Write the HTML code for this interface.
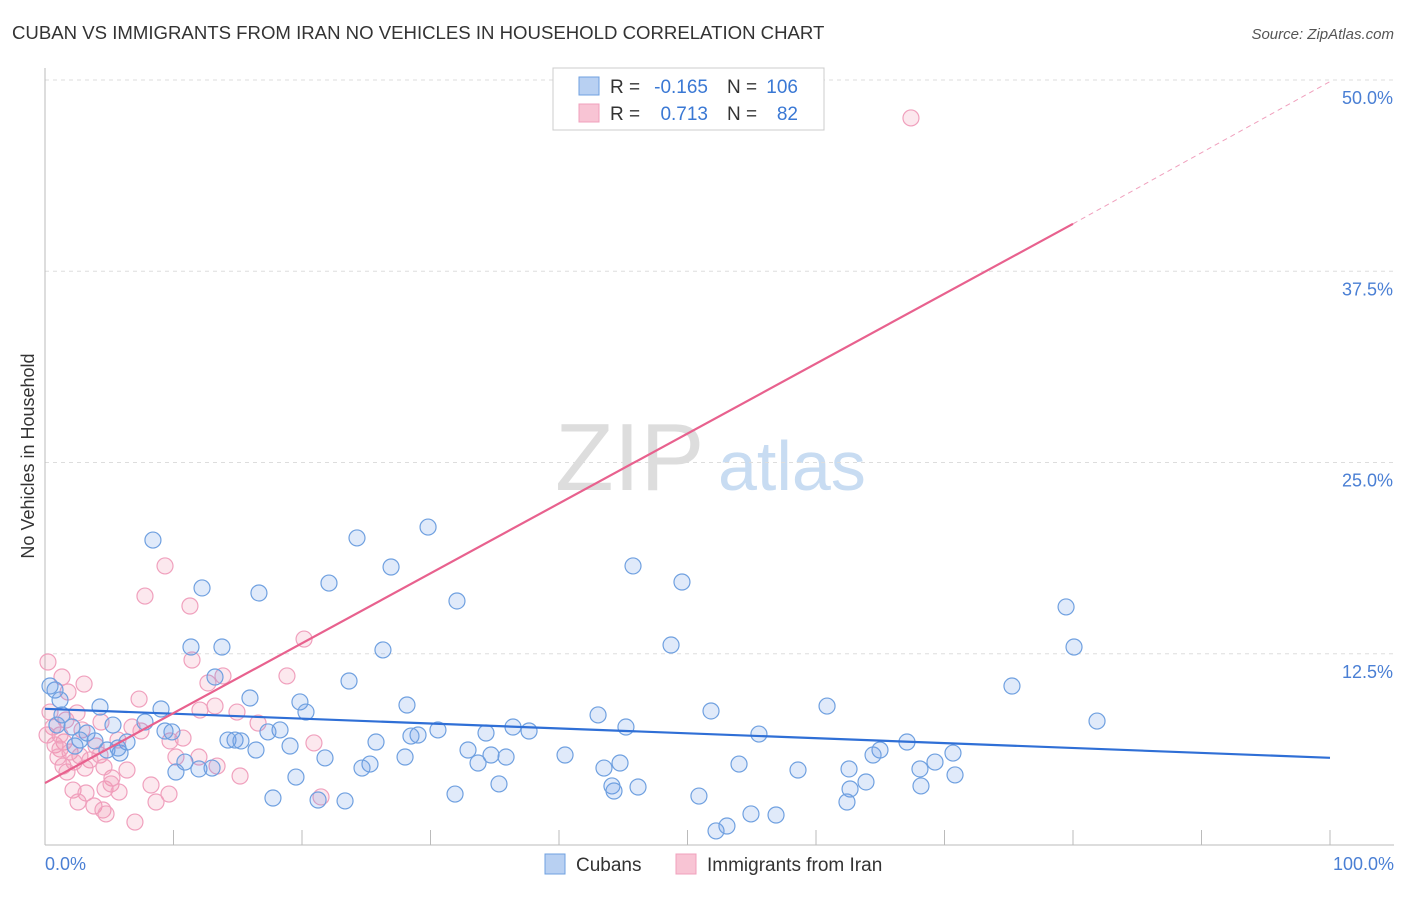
<!DOCTYPE html>
<html><head><meta charset="utf-8"><style>
body{margin:0;background:#fff;font-family:"Liberation Sans",sans-serif;}
svg text{font-family:"Liberation Sans",sans-serif;}
</style></head><body>
<svg width="1406" height="892" xmlns="http://www.w3.org/2000/svg">
<text x="12" y="39" font-size="18.6" fill="#333">CUBAN VS IMMIGRANTS FROM IRAN NO VEHICLES IN HOUSEHOLD CORRELATION CHART</text>
<text x="1394" y="39" font-size="15" fill="#555" text-anchor="end" font-style="italic">Source: ZipAtlas.com</text>
<g>
<text x="555" y="490" font-size="96" fill="#ddd" font-family="Liberation Serif,serif">ZIP</text>
<text x="718" y="490" font-size="70" fill="#c8dcf2">atlas</text></g>
<g id="grid"></g>
<g id="axes"></g>
<text transform="translate(34,456) rotate(-90)" font-size="18" fill="#333" text-anchor="middle">No Vehicles in Household</text>
<text x="45" y="870" font-size="18" fill="#4a7fd4">0.0%</text>
<text x="1394" y="870" font-size="18" fill="#4a7fd4" text-anchor="end">100.0%</text>
<g id="pts"></g>
<g id="trend"></g>
<g>
<rect x="553" y="68" width="271" height="62" fill="#fff" stroke="#ccc"/>
<rect x="579" y="77" width="20" height="18" fill="#b8d0f2" stroke="#6fa0e0"/>
<rect x="579" y="104" width="20" height="18" fill="#f8c4d4" stroke="#f0a0bd"/>
<text x="610" y="93" font-size="19" fill="#333">R =</text>
<text x="708" y="93" font-size="19" fill="#3a78d4" text-anchor="end">-0.165</text>
<text x="727" y="93" font-size="19" fill="#333">N =</text>
<text x="798" y="93" font-size="19" fill="#3a78d4" text-anchor="end">106</text>
<text x="610" y="120" font-size="19" fill="#333">R =</text>
<text x="708" y="120" font-size="19" fill="#3a78d4" text-anchor="end">0.713</text>
<text x="727" y="120" font-size="19" fill="#333">N =</text>
<text x="798" y="120" font-size="19" fill="#3a78d4" text-anchor="end">82</text>
</g>
<g>
<rect x="545" y="854" width="20" height="20" fill="#b8d0f2" stroke="#6fa0e0"/>
<text x="576" y="871" font-size="19" fill="#333">Cubans</text>
<rect x="676" y="854" width="20" height="20" fill="#f8c4d4" stroke="#f0a0bd"/>
<text x="707" y="871" font-size="19" fill="#333">Immigrants from Iran</text>
</g>
</svg>
<script>
const yTicks=[12.5,25,37.5,50];
const yTickLabels=["12.5%","25.0%","37.5%","50.0%"];
const xTicks=[0,10,20,30,40,50,60,70,80,90,100];
const bluePx=[[153,540],[357,538],[428,527],[202,588],[259,593],[329,583],[391,567],[457,601],[633,566],[682,582],[1066,607],[1074,647],[191,647],[222,647],[383,650],[671,645],[55,690],[50,686],[215,677],[250,698],[349,681],[300,702],[306,712],[407,705],[161,709],[145,722],[100,707],[62,715],[1012,686],[1097,721],[827,706],[711,711],[598,715],[626,727],[513,727],[529,731],[486,733],[438,730],[418,735],[411,736],[280,730],[268,732],[172,732],[165,731],[113,725],[87,733],[72,727],[57,725],[80,740],[95,741],[107,750],[127,742],[235,740],[228,740],[241,741],[290,746],[376,742],[256,750],[325,758],[468,750],[491,755],[506,757],[565,755],[759,734],[907,742],[880,750],[873,755],[953,753],[935,762],[955,775],[920,769],[849,769],[798,770],[739,764],[620,763],[604,768],[478,763],[405,757],[370,764],[362,768],[185,762],[176,772],[199,769],[212,768],[296,777],[499,784],[612,786],[614,791],[638,787],[866,782],[850,789],[847,802],[921,786],[455,794],[318,800],[345,801],[273,798],[699,796],[751,814],[776,815],[716,831],[727,826],[120,753],[118,748],[60,700],[75,746]];
const pinkPx=[[911,118],[165,566],[145,596],[190,606],[304,639],[192,660],[287,676],[223,676],[208,683],[48,662],[62,677],[68,692],[84,684],[139,699],[215,706],[237,712],[200,710],[50,712],[77,713],[101,722],[132,727],[141,731],[183,738],[170,741],[53,727],[258,723],[314,743],[64,742],[96,746],[118,740],[55,745],[60,749],[70,752],[80,756],[90,760],[100,755],[63,766],[74,762],[85,768],[176,757],[199,757],[127,770],[112,778],[217,766],[240,776],[151,785],[73,790],[86,793],[105,789],[111,784],[119,792],[169,794],[156,802],[78,802],[94,806],[103,810],[106,814],[135,822],[321,797],[104,767],[60,735],[47,735],[66,720],[82,730],[58,757],[67,772]];
const cubanX=bluePx.map(p=>+((p[0]-45)/12.85).toFixed(2));
const cubanY=bluePx.map(p=>+((845-p[1])/15.3).toFixed(2));
const iranX=pinkPx.map(p=>+((p[0]-45)/12.85).toFixed(2));
const iranY=pinkPx.map(p=>+((845-p[1])/15.3).toFixed(2));
const cubanTrend=[[0,8.9],[100,5.7]];
const iranTrend=[[0,4.05],[80,40.6],[100,49.9]];
const X=v=>45+v*12.85, Y=v=>845-v*15.3;
const NS="http://www.w3.org/2000/svg";
function mk(tag,attrs,parent){const e=document.createElementNS(NS,tag);for(const k in attrs)e.setAttribute(k,attrs[k]);parent.appendChild(e);return e;}
const grid=document.getElementById('grid'),axes=document.getElementById('axes');
yTicks.forEach((t,i)=>{
 const l=mk('line',{x1:45,x2:1394,y1:Y(t),y2:Y(t),stroke:'#ddd','stroke-dasharray':'4,4'},grid);
 
 
 const tx=mk('text',{x:1393,y:Y(t)+24,'font-size':18,fill:'#4a7fd4','text-anchor':'end'},axes);
 tx.textContent=yTickLabels[i];
 
 
});
const ya=mk('line',{x1:45,x2:45,y1:68,y2:845,stroke:'#bbb'},axes);


const xa=mk('line',{x1:45,x2:1394,y1:845,y2:845,stroke:'#bbb'},axes);


xTicks.forEach(t=>{const l=mk('line',{x1:X(t),x2:X(t),y1:830,y2:845,stroke:'#bbb'},axes);
 
 });
const pts=document.getElementById('pts');


iranX.forEach((x,i)=>{const c=mk('circle',{cx:X(x),cy:Y(iranY[i]),r:8,fill:'rgba(240,140,170,0.2)',stroke:'#f0a0bd','stroke-width':1.2},pts);
 
 });
cubanX.forEach((x,i)=>{const c=mk('circle',{cx:X(x),cy:Y(cubanY[i]),r:8,fill:'rgba(100,150,230,0.2)',stroke:'#6fa0e0','stroke-width':1.2},pts);
 
 });
const tr=document.getElementById('trend');
const bl=mk('line',{x1:X(cubanTrend[0][0]),y1:Y(cubanTrend[0][1]),x2:X(cubanTrend[1][0]),y2:Y(cubanTrend[1][1]),stroke:'#2f6fd6','stroke-width':2.2},tr);


const pl=mk('line',{x1:X(iranTrend[0][0]),y1:Y(iranTrend[0][1]),x2:X(iranTrend[1][0]),y2:Y(iranTrend[1][1]),stroke:'#e8618e','stroke-width':2.2},tr);


const pd=mk('line',{x1:X(iranTrend[1][0]),y1:Y(iranTrend[1][1]),x2:X(iranTrend[2][0]),y2:Y(iranTrend[2][1]),stroke:'#f0a0bd','stroke-width':1,'stroke-dasharray':'5,4'},tr);


</script>
</body></html>
